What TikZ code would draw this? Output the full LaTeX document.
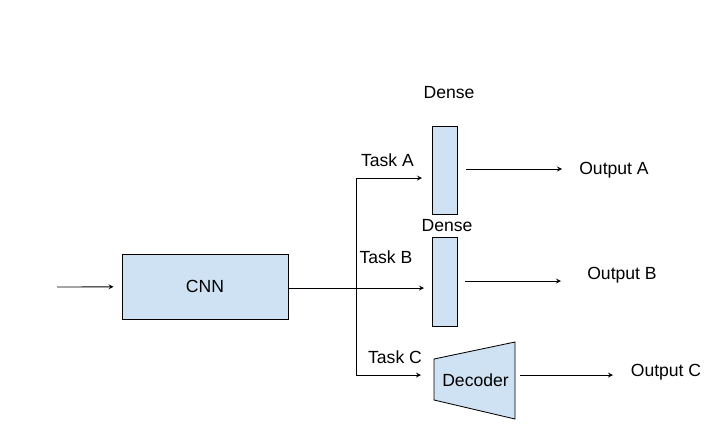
\documentclass[tikz,border=0pt]{standalone}
\usepackage{fontspec}
\setmainfont{Liberation Sans}
\definecolor{boxblue}{HTML}{CFE2F3}
\begin{document}
\begin{tikzpicture}[x=0.025cm, y=-0.025cm, font=\fontsize{12.5}{15}\selectfont, >=stealth, line width=0.6pt,
		blk/.style={draw, fill=boxblue, inner sep=0pt},
		lbl/.style={inner sep=1pt},
		arr/.style={->}]
	\useasboundingbox (0,0) rectangle (709,428);
	% blocks
	\node[blk, minimum width=4.15cm, minimum height=1.625cm] (cnn) at (205,286.5) {CNN};
	\node[blk, minimum width=0.625cm, minimum height=2.2cm] (densea) at (444.5,170) {};
	\node[blk, minimum width=0.625cm, minimum height=2.225cm] (denseb) at (444.5,281.5) {};
	\draw[fill=boxblue] (434,359) -- (515,342) -- (515,419) -- (434,400) -- cycle;
	\node[lbl] (dec) at (475.5,380) {Decoder};
	% labels
	\node[lbl] (lda) at (449,93) {Dense};
	\node[lbl] (ldb) at (447,226) {Dense};
	\node[lbl] (lta) at (387.5,160) {Task A};
	\node[lbl] (ltb) at (386,257) {Task B};
	\node[lbl] (ltc) at (395,357) {Task C};
	\node[lbl] (outa) at (614,170) {Output A};
	\node[lbl] (outb) at (622,275) {Output B};
	\node[lbl] (outc) at (666,372) {Output C};
	% connectors
	\coordinate (in) at (57,287);
	\coordinate (split) at (356,288);
	\coordinate (ta) at (422,178);
	\coordinate (tb) at (424,288);
	\coordinate (tc) at (421,375);
	\coordinate (oa) at (562,169);
	\coordinate (ob) at (561,281);
	\coordinate (oc) at (613,375);
	\draw[arr, shorten >=0.2cm] (in) -- (cnn);
	\draw (cnn.east |- split) -- (split);
	\draw[arr] (split) |- (ta);
	\draw[arr] (split) -- (tb);
	\draw[arr] (split) |- (tc);
	\draw[arr, shorten <=0.225cm] (densea.east |- oa) -- (oa);
	\draw[arr, shorten <=0.2cm] (denseb.east |- ob) -- (ob);
	\draw[arr] (520,375) -- (oc);
\end{tikzpicture}
\end{document}
